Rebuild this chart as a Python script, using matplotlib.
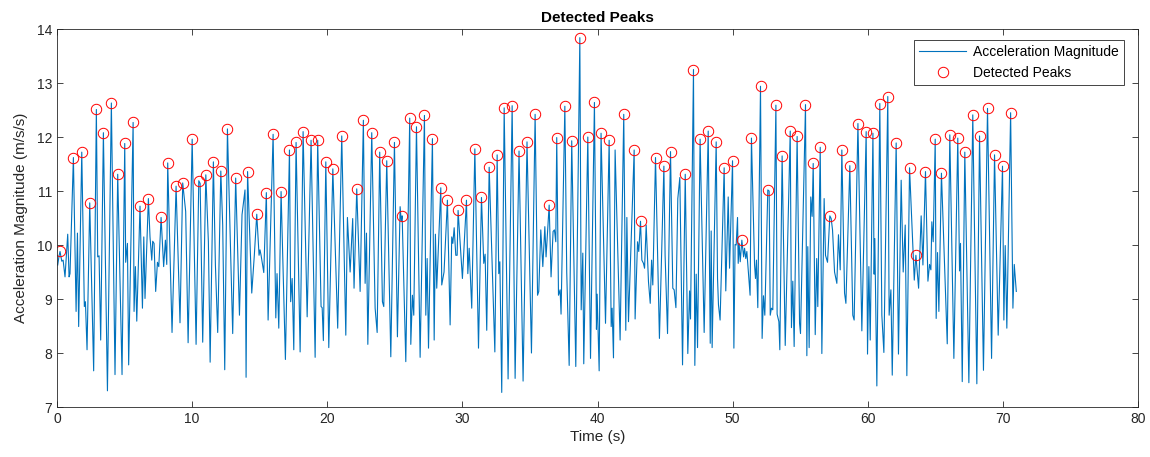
import numpy as np
import matplotlib
matplotlib.use('Agg')
import matplotlib.pyplot as plt

# Signal vertices (time in s, magnitude in m/s/s)
time = [
    0.05, 0.15, 0.22, 0.35, 0.45, 0.59, 0.79, 0.89, 0.96, 1.21,
    1.41, 1.51, 1.60, 1.83, 2.02, 2.10, 2.22, 2.42, 2.71, 2.91,
    3.01, 3.11, 3.23, 3.43, 3.73, 4.02, 4.29, 4.49, 4.81, 5.01,
    5.08, 5.21, 5.30, 5.63, 5.70, 5.80, 5.90, 6.14, 6.32, 6.42,
    6.51, 6.76, 6.88, 7.01, 7.08, 7.18, 7.30, 7.43, 7.53, 7.70,
    7.89, 8.02, 8.12, 8.19, 8.51, 8.81, 9.10, 9.30, 9.52, 9.70,
    10.00, 10.29, 10.49, 10.59, 10.78, 11.01, 11.20, 11.33, 11.57, 11.72,
    11.89, 12.12, 12.26, 12.41, 12.61, 13.00, 13.22, 13.50, 13.69, 13.91,
    13.99, 14.10, 14.41, 14.60, 14.78, 14.95, 15.02, 15.10, 15.30, 15.49,
    15.62, 15.99, 16.19, 16.28, 16.41, 16.58, 16.90, 17.20, 17.29, 17.40,
    17.52, 17.69, 17.99, 18.21, 18.51, 18.80, 19.10, 19.29, 19.54, 19.62,
    19.71, 19.89, 20.11, 20.41, 20.77, 21.07, 21.37, 21.49, 21.69, 21.88,
    21.98, 22.18, 22.43, 22.67, 22.80, 22.90, 23.00, 23.29, 23.54, 23.69,
    23.88, 24.08, 24.18, 24.40, 24.70, 24.97, 25.19, 25.39, 25.47, 25.54,
    25.81, 26.10, 26.18, 26.30, 26.40, 26.60, 26.87, 27.19, 27.29, 27.39,
    27.49, 27.78, 27.91, 28.00, 28.10, 28.40, 28.47, 28.64, 28.89, 29.09,
    29.21, 29.29, 29.39, 29.51, 29.61, 29.68, 30.00, 30.30, 30.40, 30.50,
    30.69, 30.92, 31.19, 31.41, 31.58, 31.68, 31.80, 31.98, 32.40, 32.57,
    32.69, 32.77, 32.91, 33.09, 33.38, 33.68, 33.90, 34.19, 34.49, 34.78,
    35.11, 35.38, 35.56, 35.65, 35.80, 35.95, 36.10, 36.19, 36.42, 36.56,
    36.71, 36.81, 36.91, 36.98, 37.11, 37.23, 37.30, 37.58, 37.72, 37.90,
    38.09, 38.39, 38.69, 38.79, 38.91, 38.98, 39.28, 39.48, 39.77, 39.92,
    39.97, 40.12, 40.26, 40.59, 40.86, 41.01, 41.08, 41.18, 41.30, 41.67,
    41.94, 42.09, 42.17, 42.29, 42.71, 42.78, 42.96, 43.05, 43.18, 43.28,
    43.40, 43.48, 43.60, 43.77, 43.90, 44.00, 44.09, 44.29, 44.58, 44.91,
    45.00, 45.18, 45.40, 45.57, 45.67, 45.80, 45.94, 46.09, 46.29, 46.49,
    46.68, 46.81, 46.88, 47.10, 47.20, 47.30, 47.40, 47.59, 47.89, 48.19,
    48.34, 48.41, 48.48, 48.78, 48.88, 48.95, 49.07, 49.37, 49.49, 49.67,
    49.77, 49.99, 50.09, 50.18, 50.26, 50.36, 50.41, 50.48, 50.56, 50.68,
    50.81, 50.88, 50.97, 51.05, 51.29, 51.39, 51.62, 51.69, 51.76, 51.86,
    52.06, 52.18, 52.28, 52.38, 52.60, 52.70, 52.78, 52.87, 52.97, 53.20,
    53.29, 53.42, 53.49, 53.66, 53.89, 54.26, 54.35, 54.45, 54.55, 54.77,
    54.95, 55.02, 55.39, 55.49, 55.56, 55.66, 55.78, 55.88, 55.96, 56.11,
    56.22, 56.30, 56.48, 56.60, 56.77, 56.87, 57.02, 57.19, 57.29, 57.39,
    57.54, 57.71, 57.83, 57.96, 58.08, 58.28, 58.38, 58.67, 58.89, 58.99,
    59.27, 59.56, 59.88, 59.98, 60.08, 60.18, 60.38, 60.47, 60.52, 60.67,
    60.89, 61.04, 61.19, 61.48, 61.58, 61.71, 61.81, 62.10, 62.27, 62.47,
    62.62, 62.77, 62.89, 63.09, 63.44, 63.56, 63.76, 63.95, 64.08, 64.27,
    64.45, 64.57, 64.67, 64.74, 64.84, 64.99, 65.06, 65.16, 65.26, 65.45,
    65.88, 66.07, 66.37, 66.66, 66.79, 66.86, 66.99, 67.18, 67.48, 67.77,
    68.07, 68.27, 68.56, 68.86, 69.16, 69.38, 69.65, 69.97, 70.07, 70.17,
    70.29, 70.57, 70.74, 70.84, 70.99,
]
accel = [
    9.63, 9.80, 9.88, 9.70, 9.72, 9.41, 10.20, 9.41, 9.47, 11.62,
    8.77, 10.22, 8.49, 11.72, 8.86, 8.95, 8.06, 10.78, 7.67, 12.51,
    9.78, 9.80, 8.24, 12.08, 7.30, 12.63, 7.60, 11.31, 7.60, 11.88,
    9.68, 10.03, 7.78, 12.27, 8.77, 9.60, 8.59, 10.72, 8.83, 10.15,
    9.01, 10.86, 10.15, 9.72, 10.07, 10.03, 9.14, 9.68, 9.60, 10.51,
    9.60, 10.09, 9.64, 11.52, 8.38, 11.09, 8.56, 11.15, 10.62, 8.19,
    11.96, 8.16, 11.19, 11.14, 8.20, 11.30, 10.06, 7.83, 11.54, 9.63,
    8.38, 11.37, 10.37, 7.69, 12.15, 8.36, 11.24, 8.70, 10.56, 11.02,
    7.55, 11.36, 9.11, 9.81, 10.57, 9.81, 9.91, 9.81, 9.49, 10.97,
    8.61, 12.05, 8.65, 9.47, 8.46, 10.99, 7.88, 11.76, 8.95, 9.38,
    8.06, 11.90, 8.02, 12.10, 8.67, 11.94, 7.92, 11.94, 8.86, 8.84,
    8.23, 11.54, 8.10, 11.41, 8.46, 12.02, 8.33, 10.51, 9.50, 10.49,
    9.20, 11.04, 9.14, 12.31, 9.29, 10.22, 8.16, 12.08, 8.83, 8.38,
    11.72, 8.95, 8.86, 11.56, 7.93, 11.90, 8.30, 10.71, 10.45, 10.54,
    7.84, 12.35, 8.16, 9.07, 8.70, 12.19, 7.92, 12.40, 8.70, 9.75,
    8.09, 11.97, 8.24, 10.20, 9.20, 11.06, 9.26, 9.50, 10.83, 8.52,
    10.15, 10.03, 10.32, 9.81, 9.81, 10.64, 9.38, 10.83, 9.47, 9.94,
    8.83, 11.78, 8.09, 10.88, 9.66, 9.83, 8.42, 11.44, 8.02, 11.67,
    9.47, 9.69, 7.27, 12.54, 7.52, 12.58, 7.53, 11.74, 7.48, 11.91,
    8.00, 12.42, 9.07, 9.14, 10.28, 9.60, 10.34, 9.78, 10.74, 9.41,
    10.25, 10.28, 10.06, 11.99, 9.07, 9.17, 8.72, 12.57, 9.50, 7.77,
    11.93, 7.75, 13.84, 8.80, 9.85, 7.80, 12.00, 7.90, 12.64, 8.44,
    9.09, 7.67, 12.07, 8.55, 11.94, 8.49, 8.83, 7.91, 11.76, 8.24,
    12.42, 8.42, 10.51, 8.58, 11.76, 8.63, 10.06, 9.88, 10.44, 9.72,
    9.66, 9.57, 10.37, 9.32, 8.92, 9.72, 9.26, 11.62, 8.27, 11.46,
    9.81, 8.36, 11.73, 9.20, 9.17, 8.84, 10.86, 11.25, 7.78, 11.31,
    7.99, 9.15, 8.63, 13.25, 7.77, 9.46, 8.10, 11.96, 8.38, 12.11,
    8.18, 10.26, 8.10, 11.91, 9.38, 8.89, 8.61, 11.43, 9.15, 10.89,
    9.57, 11.56, 8.09, 10.01, 10.00, 10.51, 9.66, 10.03, 9.69, 10.09,
    9.78, 9.94, 9.75, 9.88, 9.07, 11.98, 9.63, 9.38, 9.72, 8.84,
    12.94, 8.27, 9.06, 8.70, 11.02, 11.00, 8.70, 8.83, 8.80, 12.59,
    8.72, 8.58, 8.06, 11.65, 8.14, 12.11, 8.47, 9.33, 8.12, 12.01,
    8.55, 8.36, 12.60, 7.95, 9.97, 8.10, 10.89, 10.53, 11.51, 8.34,
    9.75, 8.86, 11.81, 7.99, 10.86, 9.81, 9.68, 10.54, 10.49, 10.28,
    9.50, 9.29, 10.19, 9.54, 11.76, 9.11, 8.92, 11.47, 8.70, 8.61,
    12.25, 8.41, 12.10, 7.98, 9.60, 8.24, 12.07, 9.46, 10.12, 7.39,
    12.62, 8.70, 8.01, 12.75, 8.70, 9.17, 7.59, 11.89, 7.98, 11.20,
    9.50, 10.37, 7.58, 11.43, 9.35, 9.81, 9.20, 10.54, 9.63, 11.36,
    9.33, 9.64, 9.54, 10.43, 10.06, 11.96, 8.64, 9.86, 8.77, 11.33,
    8.17, 12.04, 7.90, 11.98, 9.52, 10.03, 7.47, 11.72, 7.45, 12.41,
    7.43, 12.02, 7.68, 12.53, 7.90, 11.67, 8.33, 11.46, 8.61, 9.99,
    8.46, 12.45, 8.83, 9.64, 9.14,
]

# Times of the detected peaks (red circles)
peak_times = [
    0.22, 1.21, 1.83, 2.42, 2.91, 3.43, 4.02, 4.49, 5.01, 5.63,
    6.14, 6.76, 7.70, 8.19, 8.81, 9.30, 10.00, 10.49, 11.01, 11.57,
    12.12, 12.61, 13.22, 14.10, 14.78, 15.49, 15.99, 16.58, 17.20, 17.69,
    18.21, 18.80, 19.29, 19.89, 20.41, 21.07, 22.18, 22.67, 23.29, 23.88,
    24.40, 24.97, 25.54, 26.10, 26.60, 27.19, 27.78, 28.40, 28.89, 29.68,
    30.30, 30.92, 31.41, 31.98, 32.57, 33.09, 33.68, 34.19, 34.78, 35.38,
    36.42, 36.98, 37.58, 38.09, 38.69, 39.28, 39.77, 40.26, 40.86, 41.94,
    42.71, 43.18, 44.29, 44.91, 45.40, 46.49, 47.10, 47.59, 48.19, 48.78,
    49.37, 49.99, 50.68, 51.39, 52.06, 52.60, 53.20, 53.66, 54.26, 54.77,
    55.39, 55.96, 56.48, 57.19, 58.08, 58.67, 59.27, 59.88, 60.38, 60.89,
    61.48, 62.10, 63.09, 63.56, 64.27, 64.99, 65.45, 66.07, 66.66, 67.18,
    67.77, 68.27, 68.86, 69.38, 69.97, 70.57,
]

t = np.array(time)
a = np.array(accel)
pk = np.abs(t[:, None] - np.array(peak_times)[None, :]).argmin(axis=0)

plt.rcParams['font.family'] = ['Liberation Sans', 'DejaVu Sans']
axcol = '#262626'

fig = plt.figure(figsize=(11.5, 4.57), dpi=100)
ax = fig.add_axes([0.0496, 0.1094, 0.9400, 0.8271])

ax.plot(t, a, color='#0072BD', lw=0.8, label='Acceleration Magnitude')
ax.plot(t[pk], a[pk], 'o', mfc='none', mec='red', ms=7.5, mew=0.7,
        label='Detected Peaks')

ax.set_xlim(0, 80)
ax.set_ylim(7, 14)
ax.set_xticks(np.arange(0, 81, 10))
ax.set_yticks(np.arange(7, 15, 1))
ax.tick_params(direction='in', length=4, width=0.6, colors=axcol,
               labelsize=10, top=True, right=True)
for s in ax.spines.values():
    s.set_color(axcol)
    s.set_linewidth(0.6)

ax.set_xlabel('Time (s)', fontsize=11, color=axcol, labelpad=3)
ax.set_ylabel('Acceleration Magnitude (m/s/s)', fontsize=11, color=axcol,
              labelpad=6)
ax.set_title('Detected Peaks', fontsize=11, fontweight='bold', pad=5)

leg = ax.legend(loc='upper right', bbox_to_anchor=(0.987, 0.971),
                fontsize=10, fancybox=False, framealpha=1,
                edgecolor=axcol, borderpad=0.35, labelspacing=0.5,
                handlelength=3.4, handletextpad=0.5, borderaxespad=0)
leg.get_frame().set_linewidth(0.6)

fig.savefig('out.png', dpi=100)
